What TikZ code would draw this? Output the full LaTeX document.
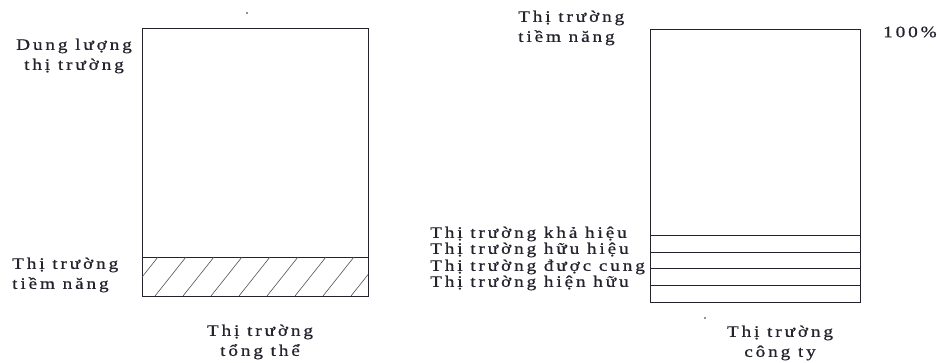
\documentclass[tikz,border=0pt]{standalone}
\usepackage{fontspec}
\setmainfont{Liberation Serif}[LetterSpace=18, FakeStretch=1.2, FakeBold=0.8]
\definecolor{ink}{RGB}{35,35,45}
\begin{document}
\begin{tikzpicture}[x=1pt,y=-1pt,
  lbl/.style={font=\fontsize{16}{20}\selectfont, text=ink, inner sep=0pt},
  box/.style={draw=ink, line width=0.9pt, inner sep=0pt},
  sep/.style={draw=ink, line width=0.8pt},
  hatch/.style={draw=ink!80, line width=0.6pt}]
\useasboundingbox (0,0) rectangle (937,363);
% left box
\node[box, minimum width=226pt, minimum height=268pt] (L) at (255,162) {};
\coordinate (Lb) at (142,257);
\coordinate (Lbr) at (368,257);
\draw[sep] (Lb) -- (Lbr);
\begin{scope}
  \clip (142,257) rectangle (368,296);
  \foreach \k in {-2,...,9}{
    \draw[hatch] ({127+28*\k},296) -- ({127+28*\k+31},257);
  }
\end{scope}
% right box
\node[box, minimum width=210pt, minimum height=273pt] (R) at (755,165.5) {};
\foreach \yy/\nm in {235/a,252/b,268/c,285/d}{
  \coordinate (l\nm) at (650,\yy);
  \coordinate (r\nm) at (860,\yy);
  \draw[sep] (l\nm) -- (r\nm);
}
% labels left
\node[lbl, align=center] (dl) at (74,56) {Dung lượng\\thị trường};
\node[lbl, align=left, anchor=west] (tn1) at (12,275) {Thị trường\\tiềm năng};
\node[lbl, align=center] (tt) at (260,342) {Thị trường\\tổng thể};
% labels right
\node[lbl, align=left, anchor=west] (tn2) at (518,28) {Thị trường\\tiềm năng};
\node[lbl, anchor=west] (pc) at (883,32) {100\%};
\node[lbl, anchor=west] (k1) at (430,234) {Thị trường khả hiệu};
\node[lbl, anchor=west] (k2) at (430,250) {Thị trường hữu hiệu};
\node[lbl, anchor=west] (k3) at (430,267) {Thị trường được cung};
\node[lbl, anchor=west] (k4) at (430,283) {Thị trường hiện hữu};
\node[lbl, align=center] (ct) at (780,343) {Thị trường\\công ty};
% stray dots
\fill[ink] (247,13) circle (0.8);
\fill[ink] (705,318) circle (0.8);
\end{tikzpicture}
\end{document}
